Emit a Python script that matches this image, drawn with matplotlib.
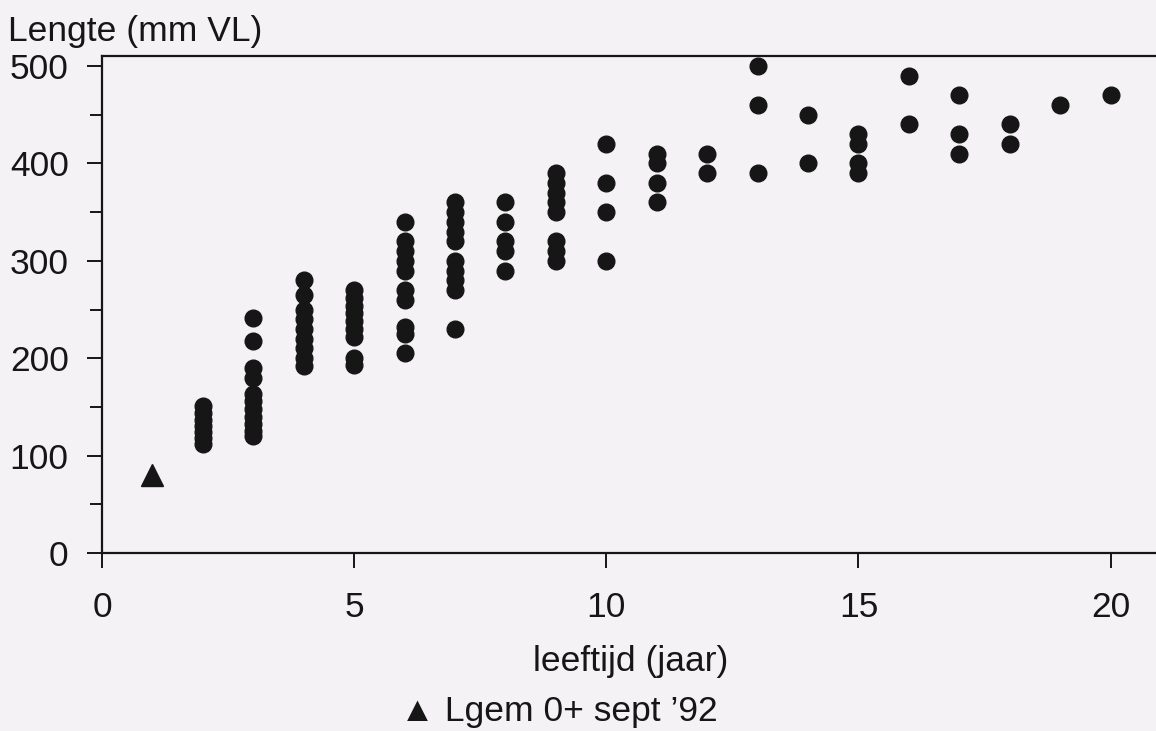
#! /usr/bin/env python
"""
Lengte tegen leeftijd: gemeten lengtes (mm VL) per leeftijdsklasse,
met de gemiddelde lengte van de 0+ vangst van september '92 als driehoek.
"""

import numpy as np
import matplotlib
matplotlib.use("Agg")
import matplotlib.pyplot as plt
from matplotlib.ticker import MultipleLocator

plt.rcParams['font.family'] = ['Liberation Sans', 'DejaVu Sans']

# gemeten lengtes per leeftijd (jaar)
ages = [2, 3, 4, 5, 6, 7, 8, 9, 10, 11, 12, 13, 14, 15, 16, 17, 18, 19, 20]
lengths = [
    [112, 118, 124, 130, 137, 144, 151],
    [120, 125, 132, 140, 148, 156, 163, 180, 190, 218, 241],
    [192, 200, 210, 220, 230, 240, 250, 265, 280],
    [193, 200, 222, 230, 238, 246, 254, 262, 270],
    [205, 225, 232, 260, 270, 290, 300, 310, 320, 340],
    [230, 270, 280, 290, 300, 320, 330, 340, 350, 360],
    [290, 310, 320, 340, 360],
    [300, 310, 320, 350, 360, 370, 380, 390],
    [300, 350, 380, 420],
    [360, 380, 400, 410],
    [390, 410],
    [390, 460, 500],
    [400, 450],
    [390, 400, 420, 430],
    [440, 490],
    [410, 430, 470],
    [420, 440],
    [460],
    [470],
]

# gemiddelde lengte 0+ (sept '92)
age_0 = [1]
length_0 = [80]

x_ticks = [0, 5, 10, 15, 20]
y_ticks = [0, 100, 200, 300, 400, 500]

ink = '#161616'
paper = '#f4f2f4'
fs = 25.5

fig = plt.figure(figsize=(11.56, 7.31), dpi=100, facecolor=paper)
ax = fig.add_axes([0.0882, 0.2435, 0.9118, 0.6795], facecolor=paper)

xs = np.concatenate([[a] * len(l) for a, l in zip(ages, lengths)])
ys = np.concatenate(lengths)
ax.plot(xs, ys, 'o', color=ink, ms=12, mec=ink, clip_on=False)
ax.plot(age_0, length_0, '^', color=ink, ms=16, mec=ink)

ax.set_xlim(0, 20.9)
ax.set_ylim(0, 510)
ax.set_xticks(x_ticks)
ax.set_yticks(y_ticks)
ax.yaxis.set_minor_locator(MultipleLocator(50))

for s in ['left', 'bottom', 'top']:
    ax.spines[s].set_color(ink)
    ax.spines[s].set_linewidth(1.6)
ax.spines['right'].set_visible(False)

ax.tick_params(axis='both', which='both', direction='out', colors=ink,
               width=1.4, labelsize=fs, labelcolor=ink)
ax.tick_params(axis='y', which='major', length=11, pad=13)
ax.tick_params(axis='y', which='minor', length=9)
ax.tick_params(axis='x', which='major', length=11, pad=16)

# as-titels en verklaring als losse teksten
fig.text(631 / 1156, 1 - 662 / 731, 'leeftijd (jaar)', fontsize=fs, color=ink,
         ha='center', va='center')
fig.text(8 / 1156, 1 - 31 / 731, 'Lengte (mm VL)', fontsize=fs, color=ink,
         ha='left', va='center')
fig.text(400 / 1156, 1 - 712 / 731, '\u25b2 Lgem 0+ sept \u201992', fontsize=fs,
         color=ink, ha='left', va='center')

fig.savefig('out.png', dpi=100, facecolor=paper)
